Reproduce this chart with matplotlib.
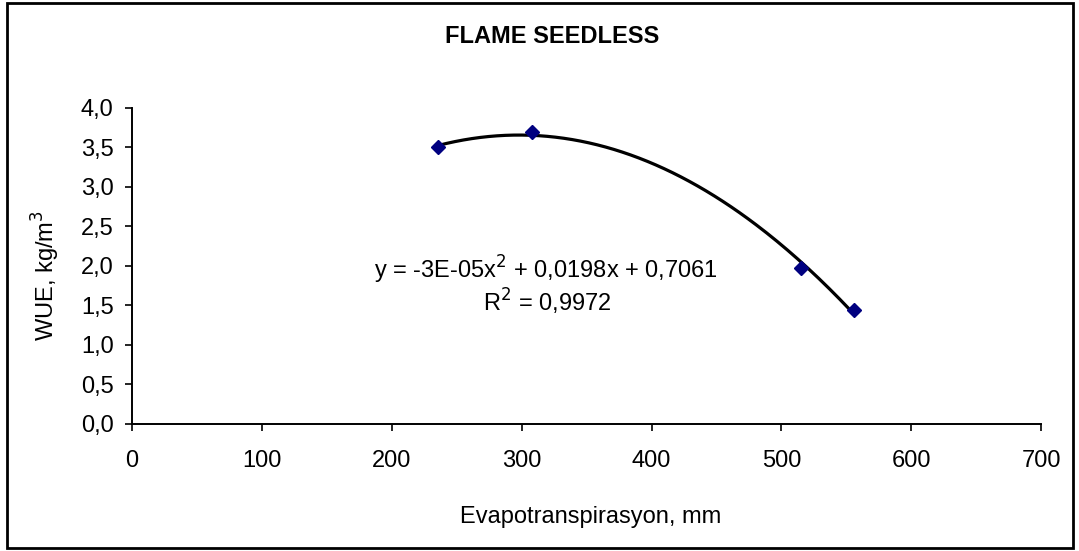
import numpy as np
import matplotlib.pyplot as plt
from matplotlib.patches import Rectangle
from matplotlib.ticker import FuncFormatter

plt.rcParams['font.family'] = ['Liberation Sans', 'DejaVu Sans']

# data
et_mm = [236, 308, 515, 556]
wue = [3.50, 3.70, 1.98, 1.44]
x_ticks = [0, 100, 200, 300, 400, 500, 600, 700]
y_ticks = [0.0, 0.5, 1.0, 1.5, 2.0, 2.5, 3.0, 3.5, 4.0]

# 2nd order polynomial trendline
coef = np.polyfit(et_mm, wue, 2)
xf = np.linspace(min(et_mm), max(et_mm), 200)
yf = np.polyval(coef, xf)

fs = 17
fig = plt.figure(figsize=(10.79, 5.51), dpi=100)
ax = fig.add_axes([0.1221, 0.2305, 0.843, 0.5735])

ax.plot(xf, yf, color='black', lw=2.3, zorder=2)
ax.plot(et_mm, wue, linestyle='none', marker='D', ms=7,
        color='#000080', zorder=3)

ax.set_xlim(0, 700)
ax.set_ylim(0, 4.0)
ax.set_xticks(x_ticks)
ax.set_yticks(y_ticks)
ax.yaxis.set_major_formatter(FuncFormatter(lambda v, p: f'{v:.1f}'.replace('.', ',')))
ax.tick_params(direction='out', length=5, width=1.2, labelsize=fs)
ax.tick_params(axis='x', pad=14)
ax.tick_params(axis='y', pad=8)
for s in ['top', 'right']:
    ax.spines[s].set_visible(False)
for s in ['left', 'bottom']:
    ax.spines[s].set_linewidth(1.4)

ax.set_xlabel('Evapotranspirasyon, mm', fontsize=fs)
ax.set_ylabel('WUE, kg/m$^3$', fontsize=fs)
ax.xaxis.set_label_coords(0.505, -0.258)
ax.yaxis.set_label_coords(-0.077, 0.47)

fig.text(0.5116, 0.934, 'FLAME SEEDLESS', ha='center', va='center',
         fontsize=fs, fontweight='bold')

ax.text(0.455, 0.487, 'y = -3E-05x$^2$ + 0,0198x + 0,7061', transform=ax.transAxes,
        ha='center', va='center', fontsize=fs)
ax.text(0.457, 0.386, 'R$^2$ = 0,9972', transform=ax.transAxes,
        ha='center', va='center', fontsize=fs)

fig.patches.append(Rectangle((0.0065, 0.006), 0.988, 0.988, transform=fig.transFigure,
                             fill=False, edgecolor='black', lw=2))

fig.savefig('out.png', dpi=100)
